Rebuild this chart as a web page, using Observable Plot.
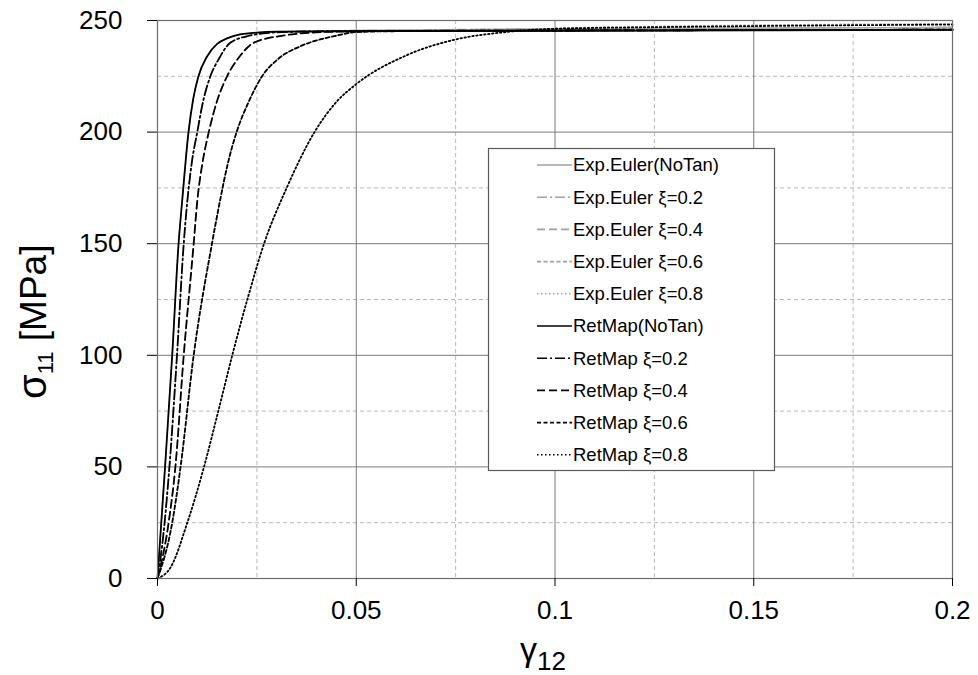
<!DOCTYPE html>
<html>
<head>
<meta charset="utf-8">
<script src="https://cdn.jsdelivr.net/npm/d3@7"></script>
<script src="https://cdn.jsdelivr.net/npm/@observablehq/plot@0.6"></script>
<style>
  html, body { margin: 0; padding: 0; background: #fff; }
  svg { display: block; }
</style>
</head>
<body>
<div id="chart"></div>
<script>
// ---- Tick values ----
const xTicks = [0, 0.05, 0.1, 0.15, 0.2];
const xTickLabels = ["0", "0.05", "0.1", "0.15", "0.2"];
const xMinor = [0.025, 0.075, 0.125, 0.175];
const yTicks = [0, 50, 100, 150, 200, 250];
const yMinor = [25, 75, 125, 175, 225];

// ---- Series names ----
const seriesNames = [
  "Exp.Euler(NoTan)", "Exp.Euler ξ=0.2", "Exp.Euler ξ=0.4", "Exp.Euler ξ=0.6", "Exp.Euler ξ=0.8",
  "RetMap(NoTan)", "RetMap ξ=0.2", "RetMap ξ=0.4", "RetMap ξ=0.6", "RetMap ξ=0.8"
];

// ---- RetMap (black) ----
const rmNoTanG = [0, 0.0019, 0.0037, 0.0053, 0.0062, 0.0078, 0.0090, 0.0103, 0.0125, 0.015, 0.0175, 0.02, 0.025, 0.03, 0.05, 0.1, 0.15, 0.2];
const rmNoTanS = [0, 50, 100, 150, 169, 200, 215, 225, 234, 239.5, 242, 243.5, 244.6, 245, 245.2, 245.4, 245.6, 245.8];

const rm02G = [0, 0.0015, 0.003, 0.0049, 0.0066, 0.0075, 0.0086, 0.010, 0.0115, 0.0133, 0.0155, 0.0183, 0.0234, 0.028, 0.035, 0.05, 0.1, 0.15, 0.2];
const rm02S = [0, 20, 50, 100, 150, 169, 186, 200, 214, 225, 233, 240, 243.3, 244.5, 245, 245.3, 245.5, 245.7, 245.9];

const rm04G = [0, 0.0028, 0.0045, 0.0066, 0.0091, 0.0100, 0.0113, 0.0129, 0.015, 0.0175, 0.0205, 0.0242, 0.0318, 0.038, 0.045, 0.06, 0.1, 0.15, 0.2];
const rm04S = [0, 25, 50, 100, 150, 169, 186, 200, 214, 225, 233.5, 240, 243.3, 244.5, 245, 245.3, 245.5, 245.7, 245.9];

const rm06G = [0, 0.0037, 0.0058, 0.0091, 0.0137, 0.0157, 0.0177, 0.0199, 0.0228, 0.0263, 0.0305, 0.036, 0.0445, 0.05, 0.06, 0.1, 0.15, 0.2];
const rm06S = [0, 25, 50, 100, 150, 169, 186, 200, 213, 225, 233, 238.5, 243, 244.8, 245.2, 245.5, 245.7, 245.9];

const rm08G = [0, 0.0033, 0.0075, 0.0117, 0.0153, 0.0188, 0.0226, 0.0268, 0.0325, 0.0395, 0.045, 0.05, 0.0625, 0.075, 0.0875, 0.1, 0.125, 0.15, 0.2];
const rm08S = [0, 5, 25, 50, 75, 100, 125, 150, 175, 200, 213.5, 221.5, 234.3, 241.5, 244.8, 246.3, 247, 247.5, 248.2];

// ---- Exp.Euler (grey): coincide with RetMap on the rise, sit a little higher on the plateau ----
const eeNoTanG = [0, 0.0019, 0.0037, 0.0053, 0.0062, 0.0078, 0.0090, 0.0103, 0.0125, 0.015, 0.0175, 0.02, 0.025, 0.03, 0.05, 0.1, 0.15, 0.2];
const eeNoTanS = [0, 50, 100, 150, 169, 200, 215, 225, 234, 239.5, 242, 243.5, 244.6, 245, 245.6, 246.2, 246.6, 246.9];

const ee02G = [0, 0.0015, 0.003, 0.0049, 0.0066, 0.0075, 0.0086, 0.010, 0.0115, 0.0133, 0.0155, 0.0183, 0.0234, 0.028, 0.035, 0.05, 0.1, 0.15, 0.2];
const ee02S = [0, 20, 50, 100, 150, 169, 186, 200, 214, 225, 233, 240, 243.3, 244.5, 245, 245.6, 246.2, 246.6, 246.9];

const ee04G = [0, 0.0028, 0.0045, 0.0066, 0.0091, 0.0100, 0.0113, 0.0129, 0.015, 0.0175, 0.0205, 0.0242, 0.0318, 0.038, 0.045, 0.06, 0.1, 0.15, 0.2];
const ee04S = [0, 25, 50, 100, 150, 169, 186, 200, 214, 225, 233.5, 240, 243.3, 244.5, 245, 245.6, 246.2, 246.6, 246.9];

const ee06G = [0, 0.0037, 0.0058, 0.0091, 0.0137, 0.0157, 0.0177, 0.0199, 0.0228, 0.0263, 0.0305, 0.036, 0.0445, 0.05, 0.06, 0.1, 0.15, 0.2];
const ee06S = [0, 25, 50, 100, 150, 169, 186, 200, 213, 225, 233, 238.5, 243, 244.8, 245.5, 246.2, 246.6, 246.9];

const ee08G = [0, 0.0033, 0.0075, 0.0117, 0.0153, 0.0188, 0.0226, 0.0268, 0.0325, 0.0395, 0.045, 0.05, 0.0625, 0.075, 0.0875, 0.1, 0.125, 0.15, 0.2];
const ee08S = [0, 5, 25, 50, 75, 100, 125, 150, 175, 200, 213.5, 221.5, 234.3, 241.5, 244.8, 246.5, 247.4, 248, 248.6];

const seriesG = [eeNoTanG, ee02G, ee04G, ee06G, ee08G, rmNoTanG, rm02G, rm04G, rm06G, rm08G];
const seriesS = [eeNoTanS, ee02S, ee04S, ee06S, ee08S, rmNoTanS, rm02S, rm04S, rm06S, rm08S];

// ---- Styles ----
const grey = "#a8a8a8";
const dashes = [null, "10,3,2,3", "8,4", "4,2.5", "1.5,2.5"];
const styles = seriesNames.map((n, i) => ({
  stroke: i < 5 ? grey : "#000",
  width: i < 5 ? 1.2 : 1.8,
  dash: dashes[i % 5]
}));

const FONT = "'Liberation Sans', Arial, sans-serif";

const lineMarks = seriesNames.map((name, i) => {
  const data = seriesG[i].map((g, k) => ({g, s: seriesS[i][k]}));
  const st = styles[i];
  return Plot.line(data, {
    x: "g", y: "s", stroke: st.stroke, strokeWidth: st.width,
    strokeDasharray: st.dash || undefined, curve: "monotone-x"
  });
});

const chart = Plot.plot({
  width: 978,
  height: 675,
  marginLeft: 157,
  marginRight: 26,
  marginTop: 20,
  marginBottom: 97,
  x: {domain: [0, 0.2]},
  y: {domain: [0, 250]},
  style: {fontFamily: FONT, fontSize: "26px", color: "#000", background: "#fff"},
  marks: [
    Plot.ruleX(xMinor, {stroke: "#b8b8b8", strokeDasharray: "4,3", strokeWidth: 1}),
    Plot.ruleY(yMinor, {stroke: "#b8b8b8", strokeDasharray: "4,3", strokeWidth: 1}),
    Plot.ruleX(xTicks, {stroke: "#7a7a7a", strokeWidth: 1}),
    Plot.ruleY(yTicks, {stroke: "#7a7a7a", strokeWidth: 1}),
    ...lineMarks,
    Plot.frame({stroke: "#6e6e6e", strokeWidth: 1.2}),
    Plot.axisX({ticks: xTicks, tickSize: 8, tickPadding: 14, tickFormat: (d) => xTickLabels[xTicks.indexOf(d)], label: null, fontSize: 26}),
    Plot.axisY({ticks: yTicks, tickSize: 10, tickPadding: 25, label: null, fontSize: 26})
  ]
});

document.getElementById("chart").appendChild(chart);

// ---- Axis titles with subscripts ----
const svg = d3.select(chart);
const yl = svg.append("text")
  .attr("transform", "translate(46,399) rotate(-90)")
  .attr("text-anchor", "start")
  .attr("font-family", FONT)
  .attr("font-size", 37)
  .attr("fill", "#000");
yl.append("tspan").attr("font-size", 40).text("σ");
yl.append("tspan").attr("font-size", 22).attr("dy", 7).text("11");
yl.append("tspan").attr("dy", -7).text(" [MPa]");

const xl = svg.append("text")
  .attr("x", 520).attr("y", 661)
  .attr("text-anchor", "start")
  .attr("font-family", FONT)
  .attr("font-size", 34)
  .attr("fill", "#000");
xl.append("tspan").text("γ");
xl.append("tspan").attr("font-size", 26).attr("dy", 9).text("12");

// ---- Legend ----
const lg = svg.append("g");
lg.append("rect")
  .attr("x", 488.5).attr("y", 148.5).attr("width", 286).attr("height", 322)
  .attr("fill", "#fff").attr("stroke", "#5a5a5a").attr("stroke-width", 1.2);
seriesNames.forEach((name, i) => {
  const y = 165 + i * 32.2;
  const st = styles[i];
  lg.append("line")
    .attr("x1", 537).attr("x2", 572).attr("y1", y).attr("y2", y)
    .attr("stroke", i < 5 ? "#a0a0a0" : "#000").attr("stroke-width", 1.6)
    .attr("stroke-dasharray", st.dash);
  lg.append("text")
    .attr("x", 573).attr("y", y).attr("dy", "0.35em")
    .attr("text-anchor", "start")
    .attr("font-family", FONT)
    .attr("font-size", 18.5).attr("fill", "#000")
    .text(name);
});
</script>
</body>
</html>
